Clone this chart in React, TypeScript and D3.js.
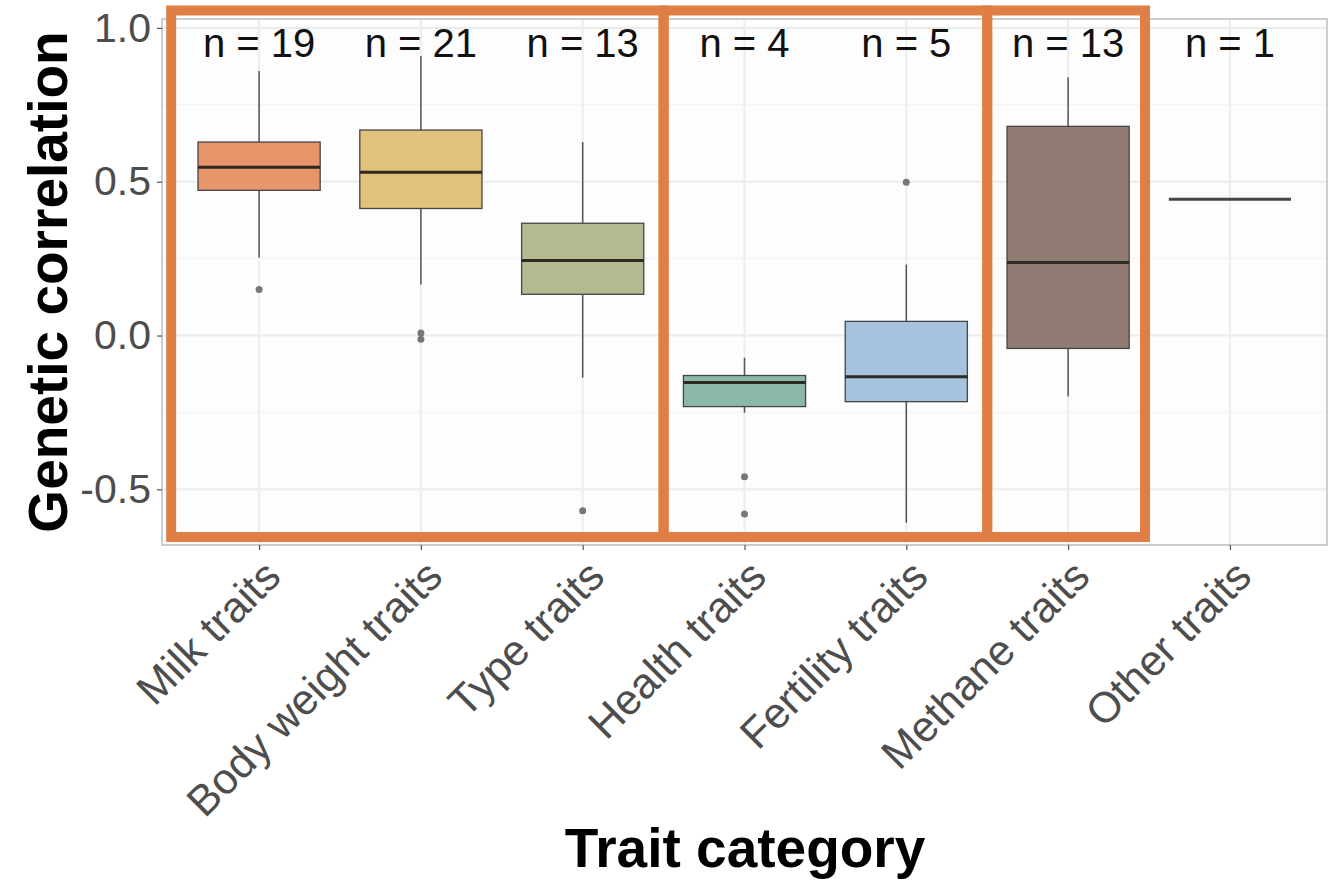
import React, { useEffect, useRef } from "react";
import * as d3 from "d3";

const categories = [
  "Milk traits",
  "Body weight traits",
  "Type traits",
  "Health traits",
  "Fertility traits",
  "Methane traits",
  "Other traits",
];
const counts = [19, 21, 13, 4, 5, 13, 1];
const q1 = [0.472, 0.413, 0.134, -0.231, -0.215, -0.042, 0.443];
const medians = [0.547, 0.531, 0.244, -0.153, -0.134, 0.237, 0.443];
const q3 = [0.629, 0.668, 0.365, -0.13, 0.046, 0.68, 0.443];
const whiskerLow = [0.254, 0.166, -0.137, -0.251, -0.609, -0.198, 0.443];
const whiskerHigh = [0.86, 0.909, 0.629, -0.072, 0.231, 0.84, 0.443];
const outlierCategory = ["Milk traits", "Body weight traits", "Body weight traits", "Type traits", "Health traits", "Health traits", "Fertility traits"];
const outlierValues = [0.15, 0.008, -0.012, -0.57, -0.459, -0.58, 0.498];
const boxColors = ["#E7956B", "#E2C17A", "#B4B991", "#8CB9A7", "#A5C3DD", "#907C72", "#999999"];
const yTicks = [-0.5, 0, 0.5, 1.0];
const yMinor = [-0.25, 0.25, 0.75];
// highlighted groups of categories (first, last)
const groups = [
  ["Milk traits", "Type traits"],
  ["Health traits", "Fertility traits"],
  ["Methane traits", "Methane traits"],
];

export default function App() {
  const ref = useRef<SVGSVGElement>(null);

  useEffect(() => {
    document.body.style.margin = "0";
    const svg = d3.select(ref.current);
    svg.selectAll("*").remove();

    const width = 1329;
    const height = 882;
    const panel = { left: 162, right: 1327, top: 19, bottom: 545 };
    const font = "'Liberation Sans', Arial, Helvetica, sans-serif";

    const x = d3.scalePoint<string>()
      .domain(categories)
      .range([panel.left, panel.right])
      .padding(0.6);
    const step = x.step();
    const boxW = step * 0.755;

    const y = d3.scaleLinear()
      .domain([-0.681, 1.029])
      .range([panel.bottom, panel.top]);

    svg.attr("width", width).attr("height", height).style("display", "block");
    svg.append("rect").attr("width", width).attr("height", height).attr("fill", "#fff");

    // panel + grid
    svg.append("rect")
      .attr("x", panel.left).attr("y", panel.top)
      .attr("width", panel.right - panel.left).attr("height", panel.bottom - panel.top)
      .attr("fill", "#FDFDFD");

    svg.append("g").selectAll("line")
      .data(yMinor)
      .join("line")
      .attr("x1", panel.left).attr("x2", panel.right)
      .attr("y1", d => y(d)).attr("y2", d => y(d))
      .attr("stroke", "#F4F4F4").attr("stroke-width", 1.5);

    svg.append("g").selectAll("line")
      .data(yTicks)
      .join("line")
      .attr("x1", panel.left).attr("x2", panel.right)
      .attr("y1", d => y(d)).attr("y2", d => y(d))
      .attr("stroke", "#EBEBEB").attr("stroke-width", 2);

    svg.append("g").selectAll("line")
      .data(categories)
      .join("line")
      .attr("x1", d => x(d)!).attr("x2", d => x(d)!)
      .attr("y1", panel.top).attr("y2", panel.bottom)
      .attr("stroke", "#EDEDED").attr("stroke-width", 2);

    svg.append("rect")
      .attr("x", panel.left).attr("y", panel.top)
      .attr("width", panel.right - panel.left).attr("height", panel.bottom - panel.top)
      .attr("fill", "none").attr("stroke", "#BDBDBD").attr("stroke-width", 1.5);

    // axes
    const fmt = (v: number) => (v < 0 ? "-" : "") + d3.format(".1f")(Math.abs(v));
    const yAxis = svg.append("g")
      .attr("transform", `translate(${panel.left},0)`)
      .call(d3.axisLeft(y).tickValues(yTicks).tickSize(5).tickPadding(6));
    yAxis.select(".domain").remove();
    yAxis.selectAll(".tick line").attr("stroke", "#555").attr("stroke-width", 1.2);
    yAxis.selectAll(".tick text")
      .attr("fill", "#4D4D4D").attr("font-size", 41).attr("font-family", font)
      .text(d => fmt(d as number));

    const xAxis = svg.append("g")
      .attr("transform", `translate(0,${panel.bottom})`)
      .call(d3.axisBottom(x).tickSize(5).tickFormat(() => ""));
    xAxis.select(".domain").remove();
    xAxis.selectAll(".tick line").attr("stroke", "#555").attr("stroke-width", 1.2);

    svg.append("g").selectAll("text")
      .data(categories)
      .join("text")
      .attr("transform", d => `translate(${x(d)! + 2},${panel.bottom + 12}) rotate(-45)`)
      .attr("text-anchor", "end")
      .attr("dy", "0.72em")
      .attr("fill", "#4D4D4D")
      .attr("font-size", 43)
      .attr("font-family", font)
      .text(d => d);

    // whiskers
    const idx = d3.range(categories.length).filter(i => counts[i] > 1);
    svg.append("g").selectAll("line")
      .data(idx)
      .join("line")
      .attr("x1", i => x(categories[i])!).attr("x2", i => x(categories[i])!)
      .attr("y1", i => y(whiskerHigh[i])).attr("y2", i => y(q3[i]))
      .attr("stroke", "#555").attr("stroke-width", 1.5);
    svg.append("g").selectAll("line")
      .data(idx)
      .join("line")
      .attr("x1", i => x(categories[i])!).attr("x2", i => x(categories[i])!)
      .attr("y1", i => y(q1[i])).attr("y2", i => y(whiskerLow[i]))
      .attr("stroke", "#555").attr("stroke-width", 1.5);

    // boxes
    svg.append("g").selectAll("rect")
      .data(idx)
      .join("rect")
      .attr("x", i => x(categories[i])! - boxW / 2)
      .attr("width", boxW)
      .attr("y", i => y(q3[i]))
      .attr("height", i => y(q1[i]) - y(q3[i]))
      .attr("fill", i => boxColors[i])
      .attr("stroke", "#444")
      .attr("stroke-width", 1.3);

    // medians
    svg.append("g").selectAll("line")
      .data(d3.range(categories.length))
      .join("line")
      .attr("x1", i => x(categories[i])! - boxW / 2)
      .attr("x2", i => x(categories[i])! + boxW / 2)
      .attr("y1", i => y(medians[i])).attr("y2", i => y(medians[i]))
      .attr("stroke", i => counts[i] > 1 ? "#2E2A22" : "#444")
      .attr("stroke-width", 3);

    // outliers
    svg.append("g").selectAll("circle")
      .data(outlierValues)
      .join("circle")
      .attr("cx", (d, i) => x(outlierCategory[i])!)
      .attr("cy", d => y(d))
      .attr("r", 3.5)
      .attr("fill", "#777");

    // n labels
    svg.append("g").selectAll("text")
      .data(categories)
      .join("text")
      .attr("x", d => x(d)!)
      .attr("y", 57)
      .attr("text-anchor", "middle")
      .attr("font-size", 40)
      .attr("font-family", font)
      .attr("fill", "#111")
      .text((d, i) => `n = ${counts[i]}`);

    // highlight frames
    const nudgeLeft = [-7, 0, 0];
    const nudgeRight = [0, 0, -4];
    svg.append("g").selectAll("rect")
      .data(groups)
      .join("rect")
      .attr("x", (g, i) => x(g[0])! - step / 2 + nudgeLeft[i])
      .attr("width", (g, i) => x(g[1])! + step / 2 + nudgeRight[i] - (x(g[0])! - step / 2 + nudgeLeft[i]))
      .attr("y", 10.5)
      .attr("height", 526.5)
      .attr("fill", "none")
      .attr("stroke", "#DF7F45")
      .attr("stroke-width", 10);

    // titles
    svg.append("text")
      .attr("transform", `translate(67,282) rotate(-90)`)
      .attr("text-anchor", "middle")
      .attr("font-size", 55)
      .attr("font-weight", "bold")
      .attr("font-family", font)
      .attr("fill", "#000")
      .text("Genetic correlation");

    svg.append("text")
      .attr("x", 745)
      .attr("y", 867)
      .attr("text-anchor", "middle")
      .attr("font-size", 55)
      .attr("font-weight", "bold")
      .attr("font-family", font)
      .attr("fill", "#000")
      .text("Trait category");
  }, []);

  return <svg ref={ref}></svg>;
}
